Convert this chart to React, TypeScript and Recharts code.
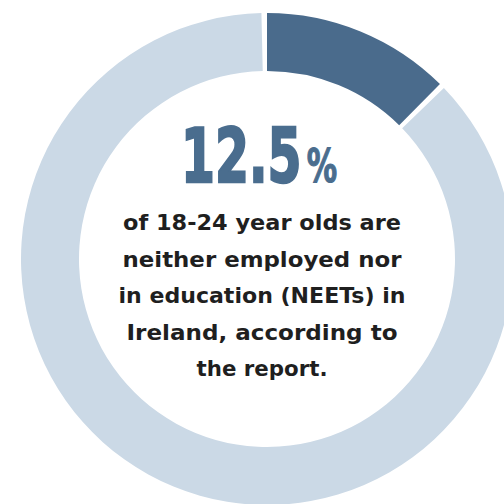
import { PieChart, Pie, Cell, Label } from "recharts"

// share of 18-24 year olds
const categories = ["NEETs", "Others"]
const values = [12.5, 87.5]
const colors = ["#4a6b8c", "#cbd9e6"]

const headline = "12.5"
const headlineUnit = "%"
const bodyLines = [
  "of 18-24 year olds are",
  "neither employed nor",
  "in education (NEETs) in",
  "Ireland, according to",
  "the report.",
]
const bodyWidths = [278, 279, 287, 271, 131]

const data = categories.map((name, i) => ({ name, value: values[i] }))

const CenterText = (props: any) => {
  const vb = props.viewBox || {}
  const cx = vb.cx ?? 262
  const cy = vb.cy ?? 254
  return (
    <g>
      <text
        transform={`translate(${cx - 81},${cy - 72}) scale(0.66,1)`}
        x={0}
        y={0}
        fill="#4a6d8e"
        stroke="#4a6d8e"
        strokeWidth={2.5}
        fontFamily="'DejaVu Sans', sans-serif"
        fontWeight="bold"
        fontSize={74}
      >
        {headline}
        <tspan dx={8} fontSize={46} strokeWidth={1.2}>
          {headlineUnit}
        </tspan>
      </text>
      {bodyLines.map((line, i) => (
        <text
          key={line}
          x={cx}
          y={cy - 24 + i * 36.5}
          textAnchor="middle"
          fill="#1f1f1f"
          fontFamily="'DejaVu Sans', sans-serif"
          fontWeight="bold"
          fontSize={22}
          textLength={bodyWidths[i]}
          lengthAdjust="spacingAndGlyphs"
        >
          {line}
        </text>
      ))}
    </g>
  )
}

export default function App() {
  return (
    <div style={{ position: "absolute", left: 0, top: 0, width: 504, height: 504, background: "#fff" }}>
      <PieChart width={504} height={504}>
        <Pie
          data={data}
          dataKey="value"
          nameKey="name"
          cx={262}
          cy={254}
          innerRadius={188}
          outerRadius={246}
          startAngle={90}
          endAngle={-270}
          paddingAngle={1.3}
          stroke="none"
          isAnimationActive={false}
        >
          {data.map((d, i) => (
            <Cell key={d.name} fill={colors[i]} />
          ))}
          <Label position="center" content={CenterText} />
        </Pie>
      </PieChart>
    </div>
  )
}
